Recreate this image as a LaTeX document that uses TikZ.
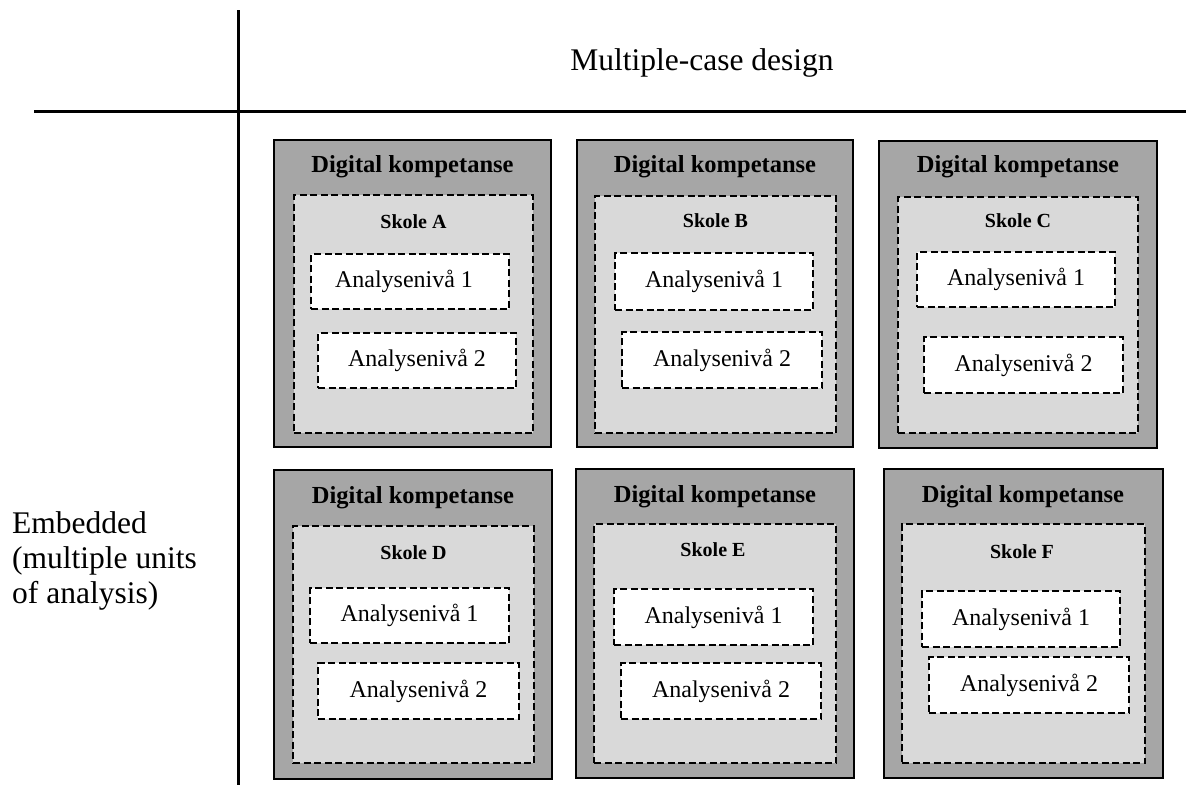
\documentclass[tikz,border=0pt]{standalone}
\usepackage{fontspec}
\setmainfont{Liberation Serif}
\usetikzlibrary{fit}
\definecolor{outergray}{RGB}{166,166,166}
\definecolor{innergray}{RGB}{217,217,217}
\tikzset{
  outerbox/.style={draw=black, line width=2.5pt, fill=outergray, inner sep=0pt},
  schoolbox/.style={draw=black, line width=2.4pt, dash pattern=on 7pt off 3.5pt, fill=innergray, inner sep=0pt},
  levelbox/.style={draw=black, line width=2.4pt, dash pattern=on 7pt off 3.5pt, fill=white, inner sep=0pt},
  axisline/.style={line width=3pt},
  dktext/.style={font=\fontsize{24.5}{28}\selectfont\bfseries, inner sep=0pt},
  skoletext/.style={font=\fontsize{20}{24}\selectfont\bfseries, inner sep=0pt},
  leveltext/.style={font=\fontsize{24}{28}\selectfont, inner sep=0pt},
  bigtext/.style={font=\fontsize{31.5}{35}\selectfont, inner sep=0pt}
}
% name, style, x1, y1, x2, y2
\newcommand\rectnode[6]{\node[#2, fit={(#3,#4)(#5,#6)}] (#1) {};}
\begin{document}
\begin{tikzpicture}[x=1pt,y=-1pt]
\useasboundingbox (0,0) rectangle (1186,785);
% axes
\coordinate (vtop) at (238,10);
\coordinate (vbot) at (238,785);
\coordinate (hl) at (34,111);
\coordinate (hr) at (1186,111);
\draw[axisline] (vtop) -- (vbot);
\draw[axisline] (hl) -- (hr);
\node[bigtext] (mcd) at (702,63) {Multiple-case design};
\node[bigtext, align=left, anchor=north west] (emb) at (12,511) {Embedded\\(multiple units\\of analysis)};
% ---------- Row 1 ----------
% A
\rectnode{A}{outerbox}{274}{140}{551}{447}
\node[dktext] (Adk) at (412.5,167) {Digital kompetanse};
\rectnode{As}{schoolbox}{294}{195}{533}{433}
\node[skoletext] (Ask) at (413.5,222) {Skole A};
\rectnode{A1}{levelbox}{311}{254}{509}{309}
\node[leveltext] (A1t) at ([xshift=-6pt]A1.center) {Analysenivå 1};
\rectnode{A2}{levelbox}{318}{333}{516}{388}
\node[leveltext] (A2t) at (A2.center) {Analysenivå 2};
% B
\rectnode{B}{outerbox}{577}{140}{853}{447}
\node[dktext] (Bdk) at (715,167) {Digital kompetanse};
\rectnode{Bs}{schoolbox}{595}{196}{836}{433}
\node[skoletext] (Bsk) at (715.5,221) {Skole B};
\rectnode{B1}{levelbox}{615}{253}{813}{310}
\node[leveltext] (B1t) at (B1.center) {Analysenivå 1};
\rectnode{B2}{levelbox}{622}{332}{822}{388}
\node[leveltext] (B2t) at (B2.center) {Analysenivå 2};
% C
\rectnode{C}{outerbox}{879}{141}{1157}{448}
\node[dktext] (Cdk) at (1018,167) {Digital kompetanse};
\rectnode{Cs}{schoolbox}{898}{197}{1138}{433}
\node[skoletext] (Csk) at (1018,221) {Skole C};
\rectnode{C1}{levelbox}{917}{252}{1115}{307}
\node[leveltext] (C1t) at (C1.center) {Analysenivå 1};
\rectnode{C2}{levelbox}{924}{337}{1123}{393}
\node[leveltext] (C2t) at (C2.center) {Analysenivå 2};
% ---------- Row 2 ----------
% D
\rectnode{D}{outerbox}{274}{470}{552}{779}
\node[dktext] (Ddk) at (413,498) {Digital kompetanse};
\rectnode{Ds}{schoolbox}{293}{526}{534}{763}
\node[skoletext] (Dsk) at (413.5,553) {Skole D};
\rectnode{D1}{levelbox}{310}{588}{509}{643}
\node[leveltext] (D1t) at (D1.center) {Analysenivå 1};
\rectnode{D2}{levelbox}{318}{663}{519}{719}
\node[leveltext] (D2t) at (D2.center) {Analysenivå 2};
% E
\rectnode{E}{outerbox}{576}{469}{854}{778}
\node[dktext] (Edk) at (715,497) {Digital kompetanse};
\rectnode{Es}{schoolbox}{594}{524}{836}{763}
\node[skoletext] (Esk) at (713,550) {Skole E};
\rectnode{E1}{levelbox}{614}{589}{813}{645}
\node[leveltext] (E1t) at (E1.center) {Analysenivå 1};
\rectnode{E2}{levelbox}{621}{663}{821}{719}
\node[leveltext] (E2t) at (E2.center) {Analysenivå 2};
% F
\rectnode{F}{outerbox}{884}{469}{1163}{778}
\node[dktext] (Fdk) at (1023,497) {Digital kompetanse};
\rectnode{Fs}{schoolbox}{902}{524}{1145}{763}
\node[skoletext] (Fsk) at (1022,552) {Skole F};
\rectnode{F1}{levelbox}{922}{591}{1120}{647}
\node[leveltext] (F1t) at (F1.center) {Analysenivå 1};
\rectnode{F2}{levelbox}{929}{657}{1129}{713}
\node[leveltext] (F2t) at (F2.center) {Analysenivå 2};
\end{tikzpicture}
\end{document}
